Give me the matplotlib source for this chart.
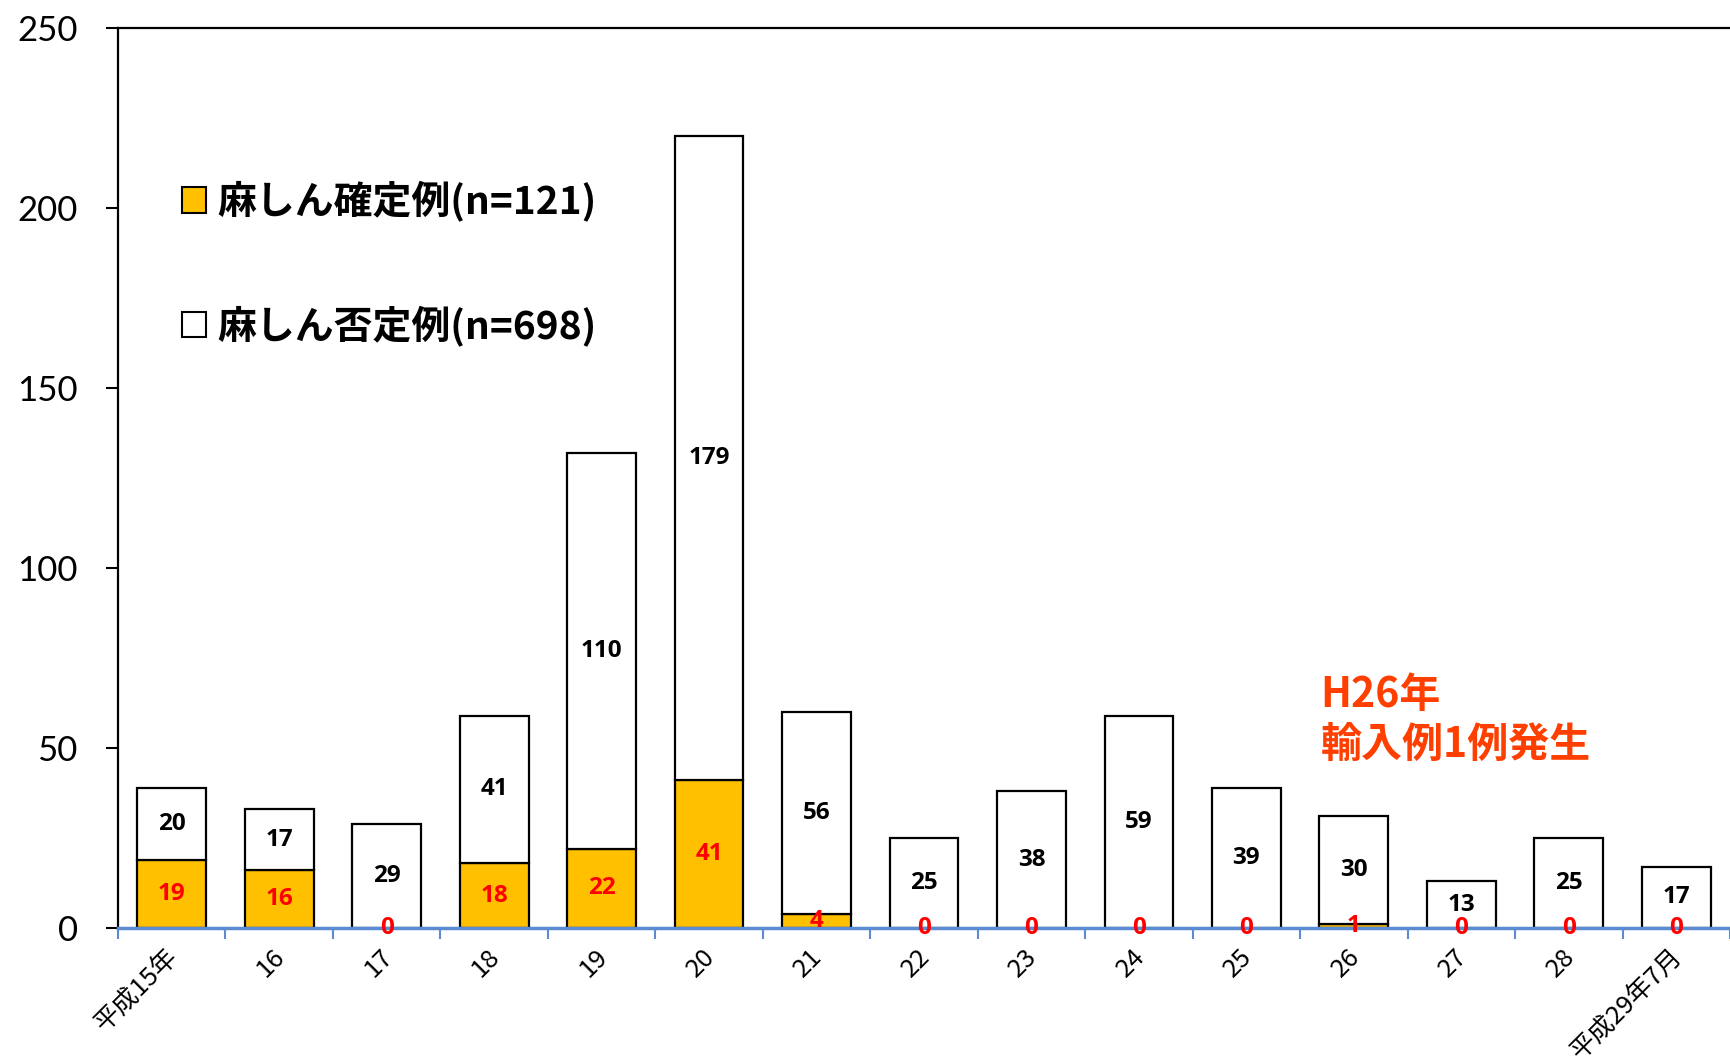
import matplotlib
matplotlib.use("Agg")
import matplotlib.pyplot as plt
import matplotlib.transforms as mtransforms
from matplotlib.patches import Patch
import numpy as np

categories = ["平成15年", "16", "17", "18", "19", "20", "21", "22", "23", "24",
              "25", "26", "27", "28", "平成29年7月"]
confirmed = [19, 16, 0, 18, 22, 41, 4, 0, 0, 0, 0, 1, 0, 0, 0]
negative = [20, 17, 29, 41, 110, 179, 56, 25, 38, 59, 39, 30, 13, 25, 17]
label_confirmed = "麻しん確定例(n=121)"
label_negative = "麻しん否定例(n=698)"
note_lines = ["H26年", "輸入例1例発生"]
yticks = [0, 50, 100, 150, 200, 250]

CJK = ["Noto Sans CJK JP", "DejaVu Sans"]
plt.rcParams["font.family"] = CJK

fig = plt.figure(figsize=(17.30, 10.64), dpi=100)
ax = fig.add_axes([0.0682, 0.1278, 0.9318, 0.8462])

x = np.arange(len(categories))
w = 0.64
b1 = ax.bar(x, confirmed, width=w, color="#FFC000", edgecolor="black", linewidth=1.6, zorder=2)
b2 = ax.bar(x, negative, width=w, bottom=confirmed, color="white", edgecolor="black",
            linewidth=1.6, zorder=2)

lab1 = ax.bar_label(b1, labels=[str(v) for v in confirmed], label_type="center",
                    color="#FF0000", fontsize=17.5, fontweight="bold", family="Open Sans")
lab2 = ax.bar_label(b2, labels=[str(v) for v in negative], label_type="center",
                    color="black", fontsize=17.5, fontweight="bold", family="Open Sans")
for t in list(lab1) + list(lab2):
    t.set_zorder(10)
    t.set_clip_on(False)

ax.set_xlim(-0.5, len(categories) - 0.5)
ax.set_ylim(0, 250)
ax.set_yticks(yticks)
ax.set_yticklabels([str(v) for v in yticks], family="Lato", fontsize=25)
ax.tick_params(axis="y", direction="out", length=9, width=1.5, color="black", pad=20)

ax.set_xticks(x)
ax.set_xticklabels(categories, rotation=45, ha="right", va="top", fontsize=18.5)
ax.tick_params(axis="x", which="major", length=0, pad=11)
shift = mtransforms.ScaledTranslation(8 / 72, 0, fig.dpi_scale_trans)
for lbl in ax.get_xticklabels():
    lbl.set_transform(lbl.get_transform() + shift)
ax.set_xticks(np.arange(-0.5, len(categories), 1.0), minor=True)
ax.tick_params(axis="x", which="minor", direction="out", length=8, width=1.5, color="#5B8BD0")

for s in ["left", "top"]:
    ax.spines[s].set_color("black")
    ax.spines[s].set_linewidth(1.6)
ax.spines["right"].set_visible(False)
ax.spines["bottom"].set_color("#5B8BD0")
ax.spines["bottom"].set_linewidth(2.5)
ax.spines["bottom"].set_zorder(5)

handles = [Patch(facecolor="#FFC000", edgecolor="black", linewidth=1.5),
           Patch(facecolor="white", edgecolor="black", linewidth=1.5)]
ax.legend(handles, [label_confirmed, label_negative], loc="upper left",
          bbox_to_anchor=(0.0397, 0.830), frameon=False, borderpad=0, borderaxespad=0,
          handlelength=0.62, handleheight=0.62, handletextpad=0.3, labelspacing=2.15,
          prop={"family": CJK, "weight": "bold", "size": 28})

ax.text(0.746, 0.259, note_lines[0], transform=ax.transAxes, color="#FF3F00",
        fontsize=29.5, fontweight="bold", ha="left", va="center")
ax.text(0.746, 0.2035, note_lines[1], transform=ax.transAxes, color="#FF3F00",
        fontsize=29.5, fontweight="bold", ha="left", va="center")

fig.savefig("out.png", dpi=100)
